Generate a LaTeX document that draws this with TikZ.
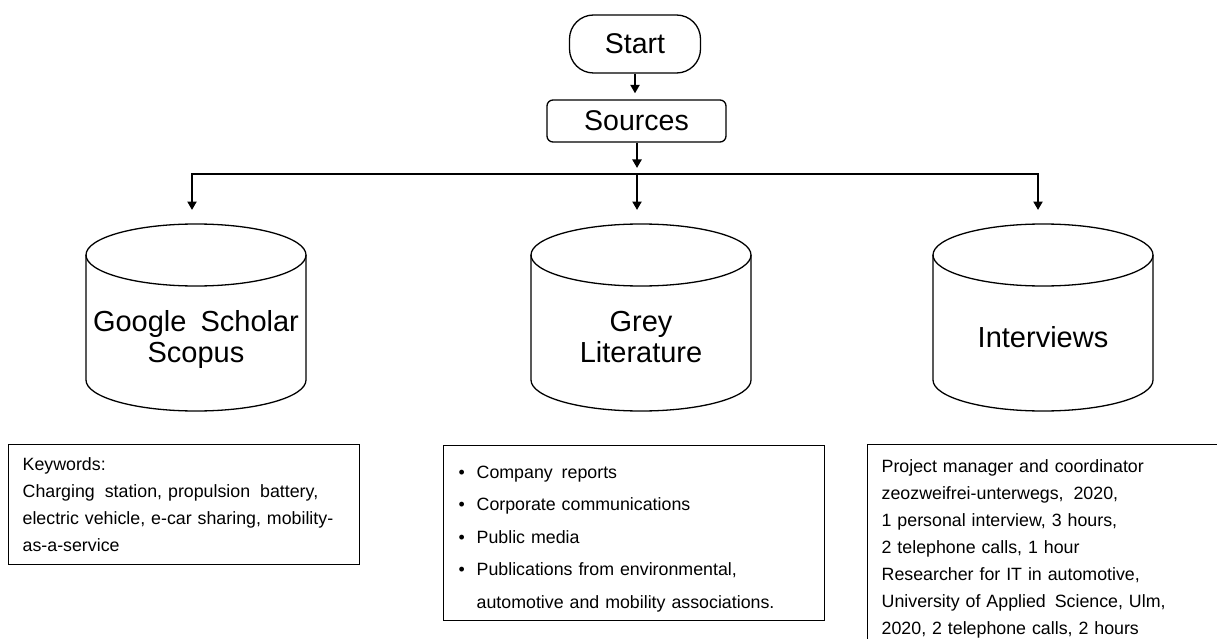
\documentclass[tikz,border=0pt]{standalone}
\usepackage{fontspec}
\setmainfont{Liberation Sans}
\usetikzlibrary{arrows.meta,calc}
\tikzset{
  conn/.style={line width=2.3pt, -{Triangle[length=8.5pt,width=9pt]}},
  startbox/.style={draw, line width=1.3pt, rounded corners=24pt, minimum width=131pt, minimum height=58pt, inner sep=0pt, font=\fontsize{28.5}{34}\selectfont},
  srcbox/.style={draw, line width=1.3pt, rounded corners=6pt, minimum width=179pt, minimum height=42pt, inner sep=0pt, font=\fontsize{28.5}{34}\selectfont},
  cyltext/.style={align=center, inner sep=0pt, font=\fontsize{29}{31}\selectfont},
  cylline/.style={line width=1.3pt},
  infobox/.style={draw, line width=1.3pt, align=left, inner ysep=0pt, anchor=north west, font=\fontsize{17.8}{27}\selectfont},
}
\newcommand{\drawcyl}[2]{%
  % #1 = centre x, #2 = name
  \draw[cylline] (#1-110,255) -- (#1-110,380) arc[start angle=180,end angle=360,x radius=110pt,y radius=31pt] -- (#1+110,255);
  \draw[cylline] (#1,255) ellipse[x radius=110pt,y radius=31pt];
}
\begin{document}
\begin{tikzpicture}[x=1pt,y=-1pt]
\useasboundingbox (0,0) rectangle (1217,639);
\clip (0,0) rectangle (1217,639);

\node[startbox] (start) at (635,44) {Start};
\node[srcbox] (src) at (636.5,121) {Sources};

\drawcyl{196}{gs}
\drawcyl{641}{gl}
\drawcyl{1043}{iv}

\node[cyltext] (gs) at (196,339) {Google\hspace{6pt} Scholar\\Scopus};
\node[cyltext] (gl) at (641,337) {Grey\\Literature};
\node[cyltext] (iv) at (1043,337) {Interviews};

\coordinate (gstop) at (192,224);
\coordinate (gltop) at (637,224);
\coordinate (ivtop) at (1038,224);
\coordinate (bus) at (637,174);

\draw[conn, shorten >=6pt] (start.south) -- (start.south |- src.north);
\draw[conn, shorten >=6pt] (src.south -| bus) -- (bus);
\draw[conn, shorten >=14pt] (bus) -| (gstop);
\draw[conn, shorten >=14pt] (bus) -- (gltop);
\draw[conn, shorten >=14pt] (bus) -| (ivtop);

\node[infobox, inner xsep=14pt, text width=323pt, minimum height=120pt] (kw) at (8,444)
  {Keywords:\\Charging\hspace{4pt} station, propulsion\hspace{4pt} battery,\\electric vehicle, e-car sharing, mobility-\\as-a-service};

\node[infobox, inner xsep=15pt, text width=351pt, minimum height=175pt, font=\fontsize{17.8}{32.5}\selectfont] (gr) at (443,445)
  {\rule{0pt}{24pt}\makebox[18pt][l]{\textbullet}Company\hspace{3pt} reports\\
   \makebox[18pt][l]{\textbullet}Corporate communications\\
   \makebox[18pt][l]{\textbullet}Public media\\
   \makebox[18pt][l]{\textbullet}Publications from environmental,\\
   \hspace*{18pt}automotive and mobility associations.};

\node[infobox, inner xsep=14pt, inner ysep=15pt, text width=380pt] (ivb) at (867,444)
  {Project manager and coordinator\\
   zeozweifrei-unterwegs,\hspace{4pt} 2020,\\
   1 personal interview, 3 hours,\\
   2 telephone calls, 1 hour\\
   Researcher for IT in automotive,\\
   University of Applied\hspace{3pt} Science, Ulm,\\
   2020, 2 telephone calls, 2 hours\\ \strut};
\end{tikzpicture}
\end{document}
